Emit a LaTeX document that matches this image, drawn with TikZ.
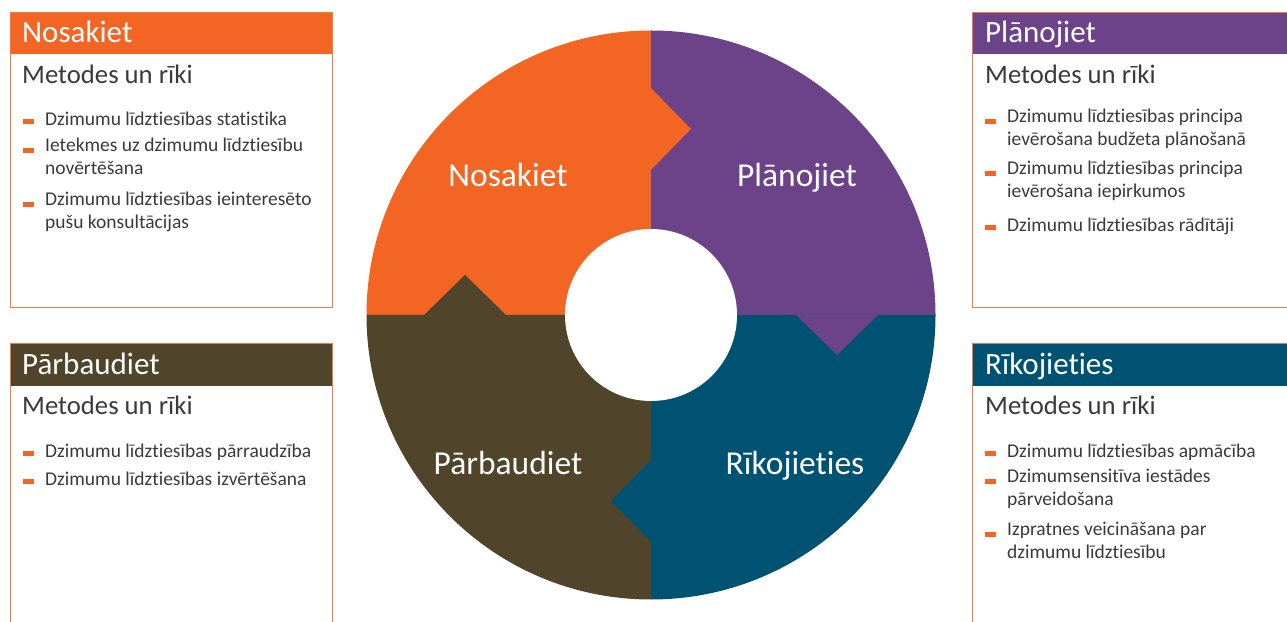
\documentclass[tikz,border=0pt]{standalone}
\usepackage{fontspec}
\setmainfont{Carlito}[Ligatures=NoCommon]
\definecolor{nosak}{HTML}{F26522}
\definecolor{plan}{HTML}{6C4289}
\definecolor{parb}{HTML}{50452A}
\definecolor{rik}{HTML}{005272}
\definecolor{frame}{HTML}{F47A3C}
\definecolor{ink}{HTML}{3A3A3A}
\begin{document}
\begin{tikzpicture}[x=1pt, y=1pt,
    head/.style={inner sep=0, anchor=north west, minimum height=42},
    panel/.style={draw=frame, line width=1.3, inner sep=0, anchor=north west},
    headtext/.style={text=white, inner sep=0, anchor=base west, font=\fontsize{31}{36}\selectfont},
    title/.style={text=ink, inner sep=0, anchor=base west, font=\fontsize{26.7}{32}\selectfont},
    tool/.style={text=ink, inner sep=0, anchor=north west, align=left, font=\fontsize{19.5}{23.5}\selectfont, execute at begin node=\strut},
    phase/.style={text=white, inner sep=0, anchor=base, font=\fontsize{33.5}{40}\selectfont}]

    \useasboundingbox (0,0) rectangle (1287,621);
    \clip (0,0) rectangle (1287,621);

    % ring
    \fill[nosak] (651,306) -- (366.5,306) arc[start angle=180, end angle=90, radius=284.5] -- cycle;
    \fill[plan] (651,306) -- (651,590.5) arc[start angle=90, end angle=0, radius=284.5] -- cycle;
    \fill[rik] (651,306) -- (935.5,306) arc[start angle=0, end angle=-90, radius=284.5] -- cycle;
    \fill[parb] (651,306) -- (651,21.5) arc[start angle=270, end angle=180, radius=284.5] -- cycle;
    \fill[nosak] (651,533) -- (691,492) -- (651,451) -- cycle;
    \fill[plan] (796,306) -- (837,266) -- (878,306) -- cycle;
    \fill[rik] (651,161) -- (611,120) -- (651,79) -- cycle;
    \fill[parb] (424,306) -- (465,346) -- (506,306) -- cycle;
    \fill[white] (651,306) circle[radius=86];

    \node[phase] (pn) at (508,434) {Nosakiet};
    \node[phase] (pp) at (797,434) {Plānojiet};
    \node[phase] (pb) at (508,146) {Pārbaudiet};
    \node[phase] (pr) at (795,146) {Rīkojieties};

    % boxes
    \node[head, fill=nosak, minimum width=322] (hn) at (10,609) {};
    \node[head, fill=plan, minimum width=328] (hp) at (972,609) {};
    \node[head, fill=parb, minimum width=322, minimum height=43] (hb) at (10,278) {};
    \node[head, fill=rik, minimum width=328, minimum height=43] (hr) at (972,278) {};
    \node[panel, minimum width=322, minimum height=295] (bn) at (10,609) {};
    \node[panel, minimum width=328, minimum height=295] (bp) at (972,609) {};
    \node[panel, minimum width=322, minimum height=300] (bb) at (10,278) {};
    \node[panel, minimum width=328, minimum height=300] (br) at (972,278) {};

    \node[headtext] (tn) at (22,578) {Nosakiet};
    \node[headtext] (tp) at (985,578) {Plānojiet};
    \node[headtext] (tb) at (22,246) {Pārbaudiet};
    \node[headtext] (tr) at (985,246) {Rīkojieties};

    \node[title] (mn) at (22,537) {Metodes un rīki};
    \node[title] (mp) at (985,537) {Metodes un rīki};
    \node[title] (mb) at (22,206) {Metodes un rīki};
    \node[title] (mr) at (985,206) {Metodes un rīki};

    % tools
    \node[tool] (n1) at (45,512.5) {Dzimumu līdztiesības statistika};
    \node[tool] (n2) at (45,483.5) {Ietekmes uz dzimumu līdztiesību\\novērtēšana};
    \node[tool] (n3) at (45,429.5) {Dzimumu līdztiesības ieinteresēto\\pušu konsultācijas};
    \node[tool] (p1) at (1007,512.5) {Dzimumu līdztiesības principa\\ievērošana budžeta plānošanā};
    \node[tool] (p2) at (1007,460.5) {Dzimumu līdztiesības principa\\ievērošana iepirkumos};
    \node[tool] (p3) at (1007,406.5) {Dzimumu līdztiesības rādītāji};
    \node[tool] (b1) at (45,180.5) {Dzimumu līdztiesības pārraudzība};
    \node[tool] (b2) at (45,152.5) {Dzimumu līdztiesības izvērtēšana};
    \node[tool] (r1) at (1007,180.5) {Dzimumu līdztiesības apmācība};
    \node[tool] (r2) at (1007,152.5) {Dzimumsensitīva iestādes\\pārveidošana};
    \node[tool] (r3) at (1007,99.5) {Izpratnes veicināšana par\\dzimumu līdztiesību};

    \foreach \t in {n1,n2,n3,p1,p2,p3,b1,b2,r1,r2,r3}
        \fill[nosak] ([shift={(-22,-15.5)}]\t.north west) rectangle ++(11,4.5);

\end{tikzpicture}
\end{document}
